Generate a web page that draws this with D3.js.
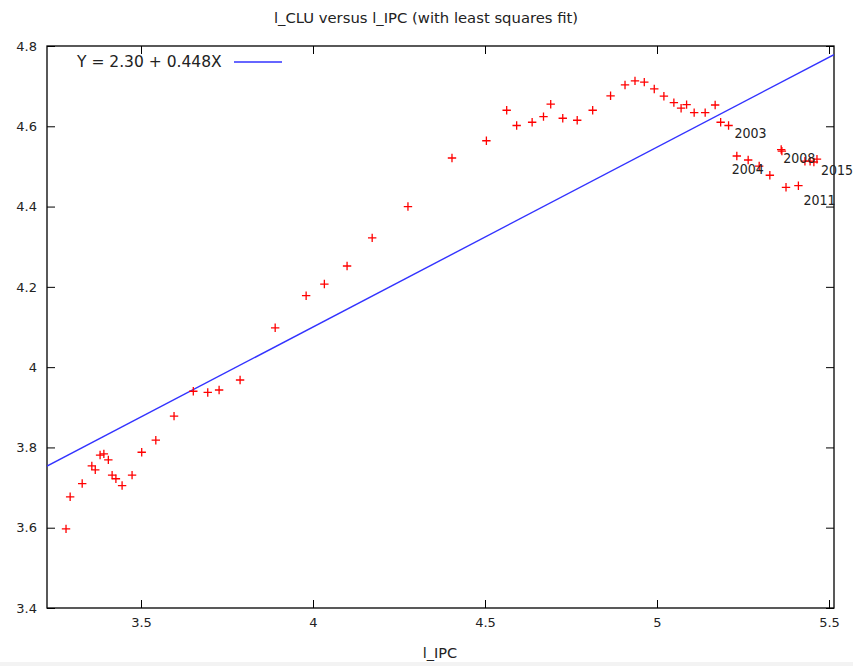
<!DOCTYPE html>
<html>
<head>
<meta charset="utf-8">
<script src="https://cdn.jsdelivr.net/npm/d3@7"></script>
<style>
  html, body { margin: 0; padding: 0; background: #fff; }
  svg { display: block; }
  text { font-family: "DejaVu Sans", sans-serif; fill: #222; }
</style>
</head>
<body>
<svg id="chart" width="853" height="666"></svg>
<script>
// ---- data ----
const years = d3.range(1955, 2016);
const lIPC = [
  3.282, 3.294, 3.329, 3.357, 3.367, 3.381, 3.392, 3.405, 3.416, 3.427,
  3.445, 3.474, 3.502, 3.543, 3.596, 3.652, 3.694, 3.727, 3.788, 3.890,
  3.980, 4.033, 4.099, 4.172, 4.276, 4.404, 4.504, 4.563, 4.592, 4.637,
  4.670, 4.691, 4.726, 4.768, 4.813, 4.865, 4.907, 4.936, 4.963, 4.992,
  5.020, 5.049, 5.070, 5.086, 5.108, 5.140, 5.169, 5.185, 5.208, 5.232,
  5.265, 5.297, 5.328, 5.361, 5.363, 5.375, 5.411, 5.430, 5.445, 5.456,
  5.465
];
const lCLU = [
  3.597, 3.677, 3.710, 3.754, 3.744, 3.781, 3.784, 3.769, 3.731, 3.722,
  3.705, 3.731, 3.788, 3.818, 3.878, 3.940, 3.937, 3.943, 3.968, 4.098,
  4.178, 4.207, 4.252, 4.322, 4.400, 4.521, 4.564, 4.640, 4.602, 4.610,
  4.624, 4.655, 4.620, 4.615, 4.640, 4.676, 4.703, 4.713, 4.710, 4.693,
  4.675, 4.659, 4.645, 4.654, 4.634, 4.634, 4.653, 4.610, 4.602, 4.526,
  4.516, 4.501, 4.478, 4.542, 4.538, 4.448, 4.452, 4.513, 4.513, 4.511,
  4.518
];
const labeledYears = [2003, 2004, 2008, 2011, 2015];
const fitCoef = [2.308, 0.448];           // intercept, slope (as drawn)
const legendText = "Y = 2.30 + 0.448X";
const xTicks = [3.5, 4, 4.5, 5, 5.5];
const xTickLabels = ["3.5", "4", "4.5", "5", "5.5"];
const yTicks = [3.4, 3.6, 3.8, 4.0, 4.2, 4.4, 4.6, 4.8];
const yTickLabels = ["3.4", "3.6", "3.8", "4", "4.2", "4.4", "4.6", "4.8"];
const xDomain = [3.2267, 5.5145];
const yDomain = [3.4, 4.8];
const titleText = "l_CLU versus l_IPC (with least squares fit)";
const xTitle = "l_IPC";

// ---- layout ----
const W = 853, H = 666;
const M = { left: 47, right: 834, top: 46, bottom: 608 };
const svg = d3.select("#chart");

const x = d3.scaleLinear().domain(xDomain).range([M.left, M.right]);
const y = d3.scaleLinear().domain(yDomain).range([M.bottom, M.top]);

svg.append("defs").append("clipPath").attr("id", "plotclip")
  .append("rect").attr("x", M.left).attr("y", M.top)
  .attr("width", M.right - M.left).attr("height", M.bottom - M.top);

// bottom strip
svg.append("rect").attr("x", 0).attr("y", 662).attr("width", W).attr("height", 4)
  .attr("fill", "#f3f3f3");

// title
svg.append("text").attr("x", 426).attr("y", 23).attr("text-anchor", "middle")
  .style("font-size", "14.8px").text(titleText);

// axes
const tk = 8;
const axB = d3.axisBottom(x).tickValues(xTicks).tickSize(-tk).tickPadding(10)
  .tickFormat((d, i) => xTickLabels[i]);
const axT = d3.axisTop(x).tickValues(xTicks).tickSize(-tk).tickFormat("");
const axL = d3.axisLeft(y).tickValues(yTicks).tickSize(-tk).tickPadding(10)
  .tickFormat((d, i) => yTickLabels[i]);
const axR = d3.axisRight(y).tickValues(yTicks).tickSize(-tk).tickFormat("");

function styleAxis(g) {
  g.select(".domain").remove();
  g.selectAll(".tick line").attr("stroke", "#000").attr("stroke-width", 1);
  g.selectAll(".tick text").style("font-size", "13px")
    .style("font-family", "DejaVu Sans, sans-serif").attr("fill", "#222");
}
svg.append("g").attr("transform", `translate(0,${M.bottom})`).call(axB).call(styleAxis);
svg.append("g").attr("transform", `translate(0,${M.top})`).call(axT).call(styleAxis);
svg.append("g").attr("transform", `translate(${M.left},0)`).call(axL).call(styleAxis);
svg.append("g").attr("transform", `translate(${M.right},0)`).call(axR).call(styleAxis);

// plot frame
svg.append("rect").attr("x", M.left).attr("y", M.top)
  .attr("width", M.right - M.left).attr("height", M.bottom - M.top)
  .attr("fill", "none").attr("stroke", "#000").attr("stroke-width", 1.3);

// x title
svg.append("text").attr("x", 440).attr("y", 658).attr("text-anchor", "middle")
  .style("font-size", "14.5px").text(xTitle);

// fit line
const fx = d => fitCoef[0] + fitCoef[1] * d;
svg.append("line").attr("clip-path", "url(#plotclip)")
  .attr("x1", x(xDomain[0])).attr("y1", y(fx(xDomain[0])))
  .attr("x2", x(xDomain[1])).attr("y2", y(fx(xDomain[1])))
  .attr("stroke", "#3333ff").attr("stroke-width", 1.4);

// points
const pts = years.map((yr, i) => ({ yr, a: lIPC[i], b: lCLU[i] }));
const s = 4.2;
const pg = svg.append("g").attr("stroke", "#ff0000").attr("stroke-width", 1.3);
pts.forEach(p => {
  const cx = x(p.a), cy = y(p.b);
  pg.append("path").attr("d", `M${cx - s},${cy}H${cx + s}M${cx},${cy - s}V${cy + s}`);
});

// year labels
const labelOffsets = { 2003: [6, 13], 2004: [-5, 18], 2008: [2, 13], 2011: [5, 19], 2015: [4, 16] };
pts.filter(p => labeledYears.includes(p.yr)).forEach(p => {
  const o = labelOffsets[p.yr];
  svg.append("text").attr("x", x(p.a) + o[0]).attr("y", y(p.b) + o[1])
    .style("font-size", "14px").style("font-family", "Liberation Sans Narrow, DejaVu Sans Condensed, sans-serif")
    .text(p.yr);
});

// legend
svg.append("text").attr("x", 77).attr("y", 67).style("font-size", "15.5px").text(legendText);
svg.append("line").attr("x1", 234).attr("x2", 282).attr("y1", 62).attr("y2", 62)
  .attr("stroke", "#3333ff").attr("stroke-width", 1.4);
</script>
</body>
</html>
